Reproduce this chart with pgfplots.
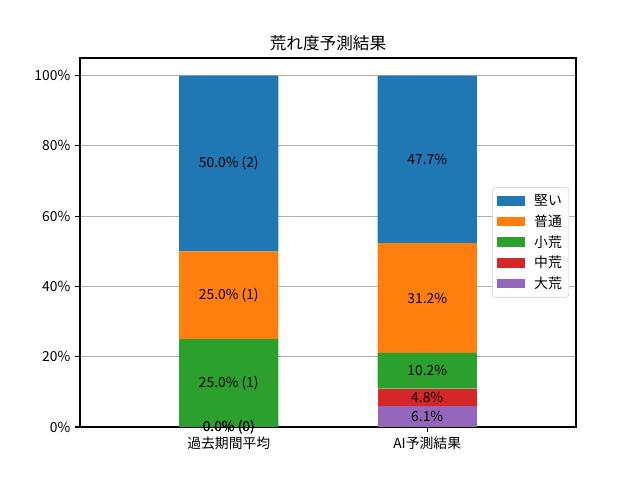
\documentclass[border=0pt]{standalone}
\usepackage{fontspec}
\setmainfont{Noto Sans CJK JP}
\usepackage{pgfplots}
\pgfplotsset{compat=1.18}
\definecolor{c1}{HTML}{1F77B4}
\definecolor{c2}{HTML}{FF7F0E}
\definecolor{c3}{HTML}{2CA02C}
\definecolor{c4}{HTML}{D62728}
\definecolor{c5}{HTML}{9467BD}
\definecolor{gridc}{HTML}{B0B0B0}
\definecolor{legc}{HTML}{CCCCCC}
\pgfplotsset{
  common/.style={
    at={(0.8in,0.53in)}, anchor=south west, scale only axis,
    width=4.96in, height=3.69in,
    xmin=-0.75, xmax=1.75, ymin=0, ymax=105,
  }
}
\begin{document}
\begin{tikzpicture}
\path[use as bounding box] (0,0) rectangle (6.4in,4.8in);
\begin{axis}[common,
  ybar stacked, bar width=0.5,
  xtick={0,1}, xticklabels={過去期間平均, AI予測結果},
  ytick={0,20,40,60,80,100},
  yticklabels={0\%,20\%,40\%,60\%,80\%,100\%},
  ymajorgrids, grid style={color=gridc, line width=0.8pt},
  tick align=outside, major tick length=3.5pt,
  tick style={black, line width=0.8pt},
  axis line style={line width=0.8pt},
  tick pos=left,
  ticklabel style={font=\fontsize{10}{12}\selectfont},
  title={荒れ度予測結果},
  title style={font=\fontsize{12}{14}\selectfont, yshift=-4.5pt},
  legend style={at={(1,0.5)}, anchor=east, xshift=-5pt,
    draw=legc, rounded corners=2pt, fill=white,
    font=\fontsize{10}{12}\selectfont, cells={anchor=west},
    row sep=1pt, inner sep=3pt},
  reverse legend,
  legend image code/.code={\fill[#1, sharp corners] (0pt,-3.5pt) rectangle (20pt,3.5pt); \path (25pt,0pt);},
]
\addplot[fill=c5, draw=none] coordinates {(0,0) (1,6.1)};
\addplot[fill=c4, draw=none] coordinates {(0,0) (1,4.8)};
\addplot[fill=c3, draw=none] coordinates {(0,25) (1,10.2)};
\addplot[fill=c2, draw=none] coordinates {(0,25) (1,31.2)};
\addplot[fill=c1, draw=none] coordinates {(0,50) (1,47.7)};
\legend{大荒,中荒,小荒,普通,堅い}
\end{axis}
\begin{axis}[common, hide axis]
\addplot[draw=none, mark=none, nodes near coords, point meta=explicit symbolic,
  every node near coord/.append style={anchor=center, font=\fontsize{10}{12}\selectfont, text=black}]
  coordinates {
  (0,0) [0.0\% (0)]
  (0,0) [0.0\% (0)]
  (0,12.5) [25.0\% (1)]
  (0,37.5) [25.0\% (1)]
  (0,75) [50.0\% (2)]
  (1,3.05) [6.1\%]
  (1,8.5) [4.8\%]
  (1,16.0) [10.2\%]
  (1,36.7) [31.2\%]
  (1,76.15) [47.7\%]
  };
\end{axis}
\end{tikzpicture}
\end{document}
